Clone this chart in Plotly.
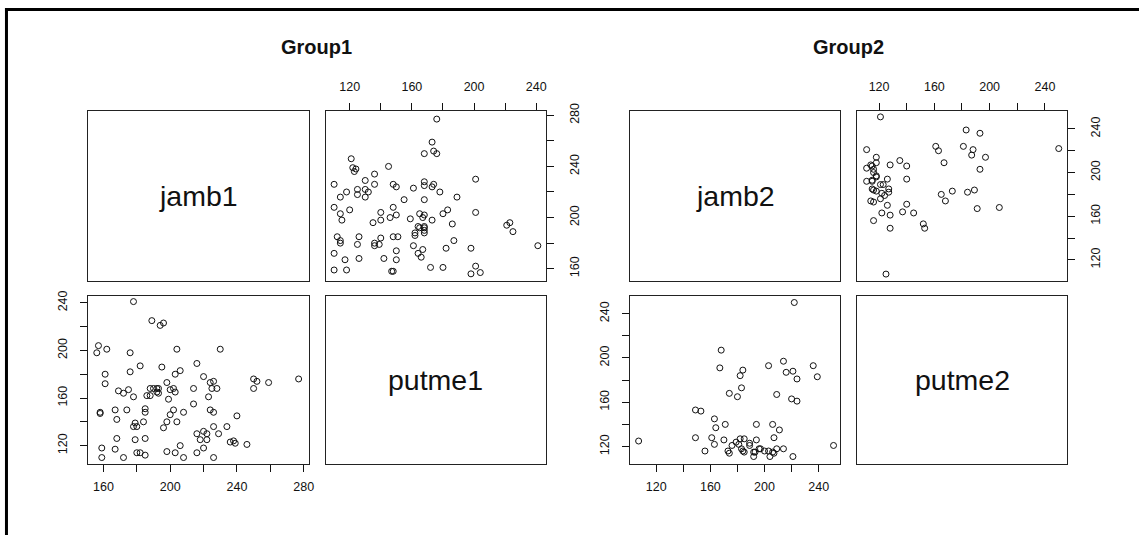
import plotly.graph_objects as go

W, H = 1144, 535

# ---------------- data ----------------
# Group 1: (jamb1, putme1)
jamb1 = [178, 189, 194, 196, 157, 156, 162, 176, 204, 230, 182, 195, 216, 161, 161,
         206, 203, 176, 198, 220, 224, 226, 250, 252, 259, 277, 250, 188, 190, 192,
         193, 192, 193, 186, 188, 200, 202, 203, 214, 225, 228, 169, 175, 172, 178,
         223, 199, 214, 167, 174, 185, 185, 202, 208, 224, 226, 158, 158, 200, 240,
         168, 198, 204, 179, 184, 180, 178, 196, 234, 226, 216, 222, 229, 218, 222,
         168, 179, 185, 236, 238, 239, 206, 246, 159, 167, 180, 182, 185, 198, 203,
         216, 220, 159, 172, 208, 226, 220]
putme1 = [241, 225, 221, 223, 204, 198, 201, 198, 201, 201, 187, 186, 189, 180, 172,
          183, 180, 182, 173, 178, 173, 174, 176, 174, 173, 176, 168, 168, 168, 168,
          168, 165, 164, 162, 162, 167, 168, 165, 168, 168, 168, 166, 167, 164, 161,
          161, 159, 155, 150, 150, 151, 148, 150, 148, 150, 148, 148, 147, 146, 145,
          142, 140, 140, 139, 140, 136, 136, 135, 136, 136, 130, 130, 130, 125, 125,
          126, 125, 126, 123, 124, 122, 120, 121, 118, 117, 114, 114, 112, 115, 114,
          114, 118, 110, 110, 110, 110, 132]

# Group 2: (jamb2, putme2)
jamb2 = [222, 168, 167, 184, 182, 183, 174, 180, 203, 214, 216, 221, 224, 236, 239,
         209, 220, 224, 149, 153, 163, 164, 171, 194, 206, 211, 149, 161, 163, 170,
         107, 156, 176, 173, 174, 179, 181, 182, 185, 183, 184, 185, 189, 189, 192,
         192, 193, 194, 196, 197, 200, 203, 204, 206, 207, 207, 209, 214, 221, 251]
putme2 = [250, 207, 191, 189, 184, 173, 168, 165, 193, 197, 187, 188, 181, 193, 183,
          167, 163, 161, 153, 152, 145, 137, 140, 140, 140, 135, 128, 128, 122, 126,
          125, 116, 121, 116, 114, 124, 122, 127, 127, 118, 116, 115, 123, 121, 111,
          115, 115, 126, 118, 118, 116, 116, 111, 115, 128, 114, 118, 118, 111, 121]

group_titles = ["Group1", "Group2"]
var_names = [["jamb1", "putme1"], ["jamb2", "putme2"]]

ticks_120 = [120, 140, 160, 180, 200, 220, 240]
labels_120 = ["120", "", "160", "", "200", "", "240"]
ticks_160 = [160, 180, 200, 220, 240, 260, 280]
labels_160 = ["160", "", "200", "", "240", "", "280"]

# ---------------- layout helpers ----------------
def xdom(a, b):
    return [a / W, b / W]

def ydom(top, bottom):
    return [1 - bottom / H, 1 - top / H]

FONT = "Liberation Sans, Arial, Helvetica, sans-serif"
tickfont = dict(family=FONT, size=12.5, color="#111")

STANDOFF = {"top": 7, "bottom": 4, "left": 8, "right": 10}

def base_axis(dom):
    return dict(domain=dom, showline=True, mirror=True, linecolor="#222", linewidth=1,
                showgrid=False, zeroline=False, fixedrange=True)

def blank_axis(dom, anchor):
    d = base_axis(dom)
    d.update(anchor=anchor, showticklabels=False, ticks="", range=[0, 1])
    return d

def tick_axis(dom, anchor, side, rng, tv, tt, is_y):
    d = base_axis(dom)
    d.update(anchor=anchor, side=side, range=rng, tickvals=tv, ticktext=tt,
             ticks="outside", ticklen=7, tickwidth=1, tickcolor="#111",
             tickfont=tickfont, tickangle=-90 if is_y else 0,
             ticklabelstandoff=STANDOFF[side])
    return d

# panel pixel boxes
g1c = [(88, 310), (327, 548)]
g2c = [(633, 844), (861, 1072)]
rows = [(105, 277), (292, 463)]

# value ranges
r_j1 = [150.5, 283.0]
r_p1 = [104.5, 246.0]
r_j2 = [100.8, 256.0]
r_p2 = [104.2, 256.2]

layout = dict(width=W, height=H, margin=dict(l=0, r=0, t=0, b=0),
              paper_bgcolor="white", plot_bgcolor="white", showlegend=False)

# Group 1
layout["xaxis"] = blank_axis(xdom(*g1c[0]), "y")
layout["yaxis"] = blank_axis(ydom(*rows[0]), "x")
layout["xaxis2"] = tick_axis(xdom(*g1c[1]), "y2", "top", r_p1, ticks_120, labels_120, False)
layout["yaxis2"] = tick_axis(ydom(*rows[0]), "x2", "right", r_j1, ticks_160, labels_160, True)
layout["xaxis3"] = tick_axis(xdom(*g1c[0]), "y3", "bottom", r_j1, ticks_160, labels_160, False)
layout["yaxis3"] = tick_axis(ydom(*rows[1]), "x3", "left", r_p1, ticks_120, labels_120, True)
layout["xaxis4"] = blank_axis(xdom(*g1c[1]), "y4")
layout["yaxis4"] = blank_axis(ydom(*rows[1]), "x4")
# Group 2
layout["xaxis5"] = blank_axis(xdom(*g2c[0]), "y5")
layout["yaxis5"] = blank_axis(ydom(*rows[0]), "x5")
layout["xaxis6"] = tick_axis(xdom(*g2c[1]), "y6", "top", r_p2, ticks_120, labels_120, False)
layout["yaxis6"] = tick_axis(ydom(*rows[0]), "x6", "right", r_j2, ticks_120, labels_120, True)
layout["xaxis7"] = tick_axis(xdom(*g2c[0]), "y7", "bottom", r_j2, ticks_120, labels_120, False)
layout["yaxis7"] = tick_axis(ydom(*rows[1]), "x7", "left", r_p2, ticks_120, labels_120, True)
layout["xaxis8"] = blank_axis(xdom(*g2c[1]), "y8")
layout["yaxis8"] = blank_axis(ydom(*rows[1]), "x8")

fig = go.Figure(layout=layout)

marker = dict(symbol="circle-open", size=6, color="#111", line=dict(width=1, color="#111"))

def scatter(x, y, n):
    fig.add_trace(go.Scatter(x=x, y=y, mode="markers", marker=marker,
                             xaxis="x%d" % n, yaxis="y%d" % n, hoverinfo="skip"))

# empty traces to register blank panels
for n in (1, 4, 5, 8):
    fig.add_trace(go.Scatter(x=[], y=[], xaxis="x" if n == 1 else "x%d" % n,
                             yaxis="y" if n == 1 else "y%d" % n))

scatter(putme1, jamb1, 2)
scatter(jamb1, putme1, 3)
scatter(putme2, jamb2, 6)
scatter(jamb2, putme2, 7)

annotations = []
# diagonal variable names
diag = [(g1c[0], rows[0], var_names[0][0]), (g1c[1], rows[1], var_names[0][1]),
        (g2c[0], rows[0], var_names[1][0]), (g2c[1], rows[1], var_names[1][1])]
for (cx, ry, name) in diag:
    annotations.append(dict(x=(cx[0] + cx[1]) / 2 / W, y=1 - (ry[0] + ry[1]) / 2 / H,
                            xref="paper", yref="paper", text=name, showarrow=False,
                            xanchor="center", yanchor="middle",
                            font=dict(family=FONT, size=28.5, color="#111")))
# group titles
for cols, title in ((g1c, group_titles[0]), (g2c, group_titles[1])):
    annotations.append(dict(x=(cols[0][0] + cols[1][1]) / 2 / W, y=1 - 40 / H,
                            xref="paper", yref="paper", text="<b>%s</b>" % title,
                            showarrow=False, xanchor="center", yanchor="middle",
                            font=dict(family=FONT, size=20, color="#111")))
fig.update_layout(annotations=annotations)

# outer frame (top and left edges visible)
fig.update_layout(shapes=[
    dict(type="line", xref="paper", yref="paper", x0=5 / W, x1=1, y0=1 - 1.5 / H, y1=1 - 1.5 / H,
         line=dict(color="black", width=3)),
    dict(type="line", xref="paper", yref="paper", x0=6.5 / W, x1=6.5 / W, y0=0, y1=1,
         line=dict(color="black", width=3)),
])

fig.write_html("out.html", config={"displayModeBar": False},
               post_script="document.body.style.margin='0';document.body.style.overflow='hidden';")
